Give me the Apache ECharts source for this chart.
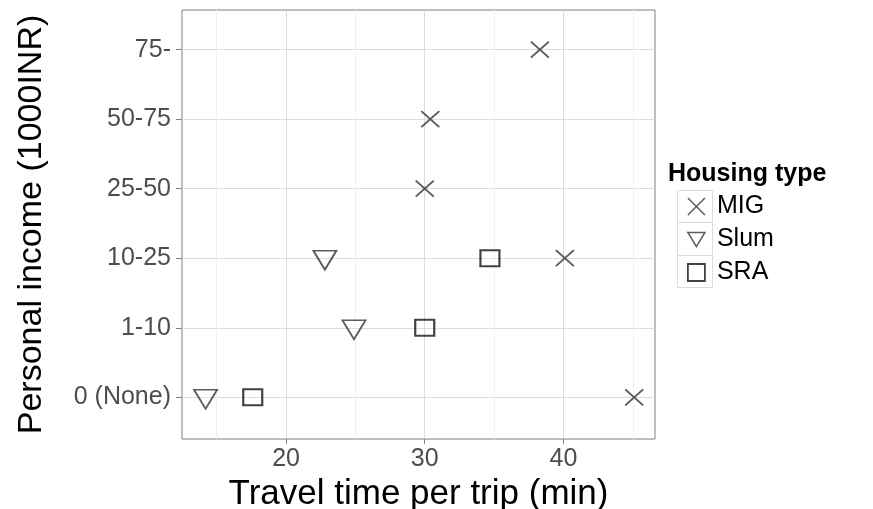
<!DOCTYPE html>
<html>
<head>
<meta charset="utf-8">
<script src="https://cdn.jsdelivr.net/npm/echarts@6/dist/echarts.min.js"></script>
<style>html,body{margin:0;padding:0;background:#fff}#c{width:873px;height:509px}</style>
</head>
<body>
<div id="c"></div>
<script>
var categories = ['0 (None)', '1-10', '10-25', '25-50', '50-75', '75-'];
var xTicks = [20, 30, 40];
var xMinor = [15, 25, 35, 45];

var migIncome = ['75-', '50-75', '25-50', '10-25', '0 (None)'];
var migTime = [38.3, 30.4, 30.0, 40.1, 45.1];
var slumIncome = ['10-25', '1-10', '0 (None)'];
var slumTime = [22.8, 24.9, 14.2];
var sraIncome = ['10-25', '1-10', '0 (None)'];
var sraTime = [34.7, 30.0, 17.6];

function pts(times, incomes) {
  return times.map(function (t, i) { return [t, categories.indexOf(incomes[i])]; });
}

var crossPath = 'path://M0,0L10,10M10,0L0,10';
var triPath = 'path://M0,0L12,0L6,10Z';
var sqPath = 'path://M0,0L10,0L10,10L0,10Z';
var FONT = '"Liberation Sans", Arial, sans-serif';

var chart = echarts.init(document.getElementById('c'), null, { renderer: 'canvas' });
var xMin = 12.5, xMax = 46.6, yMin = -0.6, yMax = 5.57;

chart.setOption({
  animation: false,
  backgroundColor: '#fff',
  grid: [{ left: 182, right: 218, top: 10, bottom: 70, outerBoundsMode: 'none', containLabel: false,
    show: true, borderColor: '#7f7f7f', borderWidth: 1, backgroundColor: 'transparent' }],
  xAxis: [
    { type: 'value', min: xMin, max: xMax, gridIndex: 0, position: 'bottom',
      axisLine: { show: false, onZero: false },
      axisTick: { show: true, customValues: xTicks, length: 5, lineStyle: { color: '#7f7f7f', width: 1 } },
      axisLabel: { customValues: xTicks, color: '#4d4d4d', fontSize: 25, fontFamily: FONT, margin: 8 },
      splitLine: { show: true, lineStyle: { color: '#dcdcdc', width: 1 } },
      name: 'Travel time per trip (min)', nameLocation: 'middle', nameGap: 33,
      nameTextStyle: { color: '#000', fontSize: 35, fontFamily: FONT }
    },
    { type: 'value', min: xMin, max: xMax, gridIndex: 0, position: 'top', show: true,
      axisLine: { show: false, onZero: false }, axisLabel: { show: false },
      axisTick: { show: false, customValues: xMinor },
      splitLine: { show: true, lineStyle: { color: '#f0f0f0', width: 1 } }
    }
  ],
  yAxis: [
    { type: 'value', min: yMin, max: yMax, gridIndex: 0,
      axisLine: { show: false, onZero: false },
      axisTick: { show: true, customValues: [0, 1, 2, 3, 4, 5], length: 6, lineStyle: { color: '#7f7f7f', width: 1 } },
      axisLabel: { customValues: [0, 1, 2, 3, 4, 5], color: '#4d4d4d', fontSize: 25, fontFamily: FONT, margin: 11,
        formatter: function (v) { return categories[Math.round(v)]; } },
      splitLine: { show: true, lineStyle: { color: '#dcdcdc', width: 1 } },
      name: 'Personal income (1000INR)', nameLocation: 'middle', nameGap: 133, nameRotate: 90,
      nameTextStyle: { color: '#000', fontSize: 34, fontFamily: FONT }
    }
  ],
  legend: {
    orient: 'vertical', left: 687, top: 194, padding: 0, itemWidth: 17, itemHeight: 17, itemGap: 8,
    selectedMode: false,
    textStyle: { color: '#000', fontSize: 25, fontFamily: FONT, padding: [0, 0, 0, 7] },
    data: [
      { name: 'MIG', icon: crossPath, itemStyle: { color: 'transparent', borderColor: '#333', borderWidth: 1.5 } },
      { name: 'Slum', icon: triPath, itemStyle: { color: 'transparent', borderColor: '#333', borderWidth: 1.5 } },
      { name: 'SRA', icon: sqPath, itemStyle: { color: 'transparent', borderColor: '#111', borderWidth: 1.8 } }
    ]
  },
  graphic: [
    { type: 'text', left: 668, top: 162, style: { text: 'Housing type', font: 'bold 25px ' + FONT, fill: '#000' } },
    { type: 'rect', shape: { x: 677.5, y: 190.5, width: 35, height: 32 }, style: { fill: 'none', stroke: '#dcdcdc', lineWidth: 1 }, z: -1 },
    { type: 'rect', shape: { x: 677.5, y: 222.5, width: 35, height: 33 }, style: { fill: 'none', stroke: '#dcdcdc', lineWidth: 1 }, z: -1 },
    { type: 'rect', shape: { x: 677.5, y: 255.5, width: 35, height: 32 }, style: { fill: 'none', stroke: '#dcdcdc', lineWidth: 1 }, z: -1 }
  ],
  series: [
    { name: 'MIG', type: 'scatter', xAxisIndex: 0, yAxisIndex: 0, data: pts(migTime, migIncome),
      symbol: crossPath, symbolSize: [18, 16],
      itemStyle: { color: 'transparent', borderColor: '#333', borderWidth: 1.8 } },
    { name: 'Slum', type: 'scatter', xAxisIndex: 0, yAxisIndex: 0, data: pts(slumTime, slumIncome),
      symbol: triPath, symbolSize: [23, 19], symbolOffset: [0, 2],
      itemStyle: { color: 'transparent', borderColor: '#333', borderWidth: 1.8 } },
    { name: 'SRA', type: 'scatter', xAxisIndex: 0, yAxisIndex: 0, data: pts(sraTime, sraIncome),
      symbol: sqPath, symbolSize: [19, 16],
      itemStyle: { color: 'transparent', borderColor: '#111', borderWidth: 2 } }
  ]
});
</script>
</body>
</html>
